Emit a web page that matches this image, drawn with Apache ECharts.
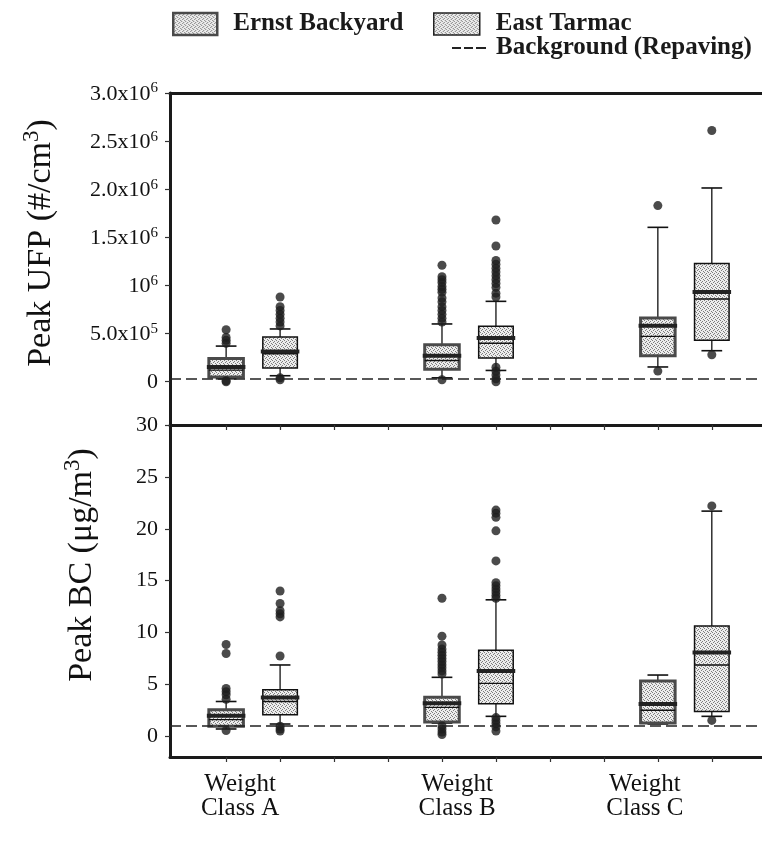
<!DOCTYPE html>
<html><head><meta charset="utf-8">
<script src="https://cdn.jsdelivr.net/npm/echarts@6/dist/echarts.min.js"></script>
<style>html,body{margin:0;padding:0;background:#fff}#c{width:762px;height:844px}</style>
</head><body><div id="c"></div>
<script>
// ---------------- data ----------------
const classNames = ['Weight\nClass A', 'Weight\nClass B', 'Weight\nClass C'];
const siteNames = ['Ernst Backyard', 'East Tarmac'];
const bgName = 'Background (Repaving)';

// box statistics per class: [lowerWhisker, Q1, median, mean, Q3, upperWhisker]
const ufpErnst = [
  [30000, 50000, 120000, 153000, 240000, 370000],
  [40000, 130000, 220000, 270000, 385000, 600000],
  [153000, 270000, 471000, 582000, 662000, 1604000]
];
const ufpEast = [
  [62000, 142000, 290000, 315000, 465000, 548000],
  [117000, 246000, 400000, 454000, 575000, 835000],
  [322000, 430000, 860000, 932000, 1227000, 2013000]
];
const bcErnst = [
  [0.7, 0.96, 1.6, 1.98, 2.55, 3.35],
  [1.27, 1.37, 2.78, 3.19, 3.77, 5.68],
  [1.18, 1.27, 2.5, 3.1, 5.33, 5.9]
];
const bcEast = [
  [1.18, 2.08, 3.35, 3.74, 4.47, 6.87],
  [1.92, 3.13, 5.1, 6.29, 8.3, 13.15],
  [1.92, 2.39, 6.87, 8.08, 10.63, 21.7]
];

// outliers per class
const ufpErnstOut = [
  [0, 10000, 400000, 430000, 460000, 540000],
  [20000, 620000, 660000, 700000, 740000, 780000, 830000, 870000, 930000, 960000, 990000, 1030000, 1060000, 1090000, 1210000],
  [110000, 1830000]
];
const ufpEastOut = [
  [20000, 40000, 580000, 620000, 660000, 700000, 740000, 780000, 880000],
  [0, 30000, 70000, 110000, 150000, 880000, 920000, 980000, 1020000, 1060000, 1100000, 1140000, 1180000, 1220000, 1260000, 1410000, 1680000],
  [280000, 2610000]
];
const bcErnstOut = [
  [0.55, 3.57, 4.0, 4.3, 4.6, 7.98, 8.84],
  [0.16, 0.4, 0.7, 1.0, 6.0, 6.3, 6.6, 6.9, 7.2, 7.5, 7.8, 8.1, 8.4, 8.8, 9.65, 13.3],
  []
];
const bcEastOut = [
  [0.5, 0.7, 0.96, 7.73, 11.5, 11.8, 12.1, 12.8, 14.0],
  [0.5, 0.9, 1.2, 1.5, 1.8, 13.3, 13.6, 13.9, 14.2, 14.5, 14.8, 16.9, 19.8, 21.1, 21.5, 21.8],
  [1.53, 22.2]
];

const bgUFP = 35000;
const bgBC = 1.0;

const ufpTickValues = [0, 500000, 1000000, 1500000, 2000000, 2500000, 3000000];
const ufpTickMant = ['0', '5.0x10', '10', '1.5x10', '2.0x10', '2.5x10', '3.0x10'];
const ufpTickExp = ['', '5', '6', '6', '6', '6', '6'];
const bcTickValues = [0, 5, 10, 15, 20, 25, 30];
const bcTickText = ['0', '5', '10', '15', '20', '25', '30'];

// ---------------- layout / style ----------------
const FONT = '"Liberation Serif", "Times New Roman", serif';
const X_MIN = -1.04, X_MAX = 9.93;
const slotTicks = [0, 1, 2, 3, 4, 5, 6, 7, 8, 9];
const classLabelX = [0.26, 4.28, 7.76];
const slot = (c, s) => c * 4 + s;

const pc = document.createElement('canvas');
pc.width = 4; pc.height = 4;
const g = pc.getContext('2d');
g.fillStyle = '#ececec'; g.fillRect(0, 0, 4, 4);
g.fillStyle = '#7c7c7c';
[[0, 0], [2, 1], [1, 2], [3, 3]].forEach(p => g.fillRect(p[0], p[1], 1, 1));
const stipple = { image: pc, repeat: 'repeat' };

const siteStyle = [
  { stroke: '#4a4a4a', lineWidth: 3 },
  { stroke: '#111', lineWidth: 1.5 }
];

function boxData(stats, s) {
  return stats.map((st, c) => [slot(c, s)].concat(st));
}
function outData(out, s) {
  const r = [];
  out.forEach((arr, c) => arr.forEach(v => r.push([slot(c, s), v])));
  return r;
}

function boxRender(s) {
  return function (params, api) {
    const x = api.value(0);
    const y = i => api.coord([x, api.value(i)])[1];
    const cx = api.coord([x, 0])[0];
    const yLw = y(1), yQ1 = y(2), yMed = y(3), yMean = y(4), yQ3 = y(5), yUw = y(6);
    const bw = api.size([1, 0])[0] * 0.64;
    const cw = bw * 0.6;
    const ls = { stroke: '#111', lineWidth: 1.3 };
    return {
      type: 'group',
      children: [
        { type: 'line', shape: { x1: cx, y1: yQ3, x2: cx, y2: yUw }, style: ls },
        { type: 'line', shape: { x1: cx - cw / 2, y1: yUw, x2: cx + cw / 2, y2: yUw }, style: { stroke: '#111', lineWidth: 1.6 } },
        { type: 'line', shape: { x1: cx, y1: yQ1, x2: cx, y2: yLw }, style: ls },
        { type: 'line', shape: { x1: cx - cw / 2, y1: yLw, x2: cx + cw / 2, y2: yLw }, style: { stroke: '#111', lineWidth: 1.6 } },
        { type: 'rect', shape: { x: cx - bw / 2, y: yQ3, width: bw, height: yQ1 - yQ3 },
          style: { fill: stipple, stroke: siteStyle[s].stroke, lineWidth: siteStyle[s].lineWidth } },
        { type: 'line', shape: { x1: cx - bw / 2, y1: yMed, x2: cx + bw / 2, y2: yMed }, style: { stroke: '#111', lineWidth: 1.4 } },
        { type: 'line', shape: { x1: cx - bw / 2 - 2, y1: yMean, x2: cx + bw / 2 + 2, y2: yMean }, style: { stroke: '#222', lineWidth: 4 } }
      ]
    };
  };
}

function boxSeries(name, stats, s, xi, yi) {
  return {
    type: 'custom', name: name, xAxisIndex: xi, yAxisIndex: yi,
    itemStyle: { color: '#d0d0d0', borderColor: siteStyle[s].stroke },
    data: boxData(stats, s), encode: { x: 0, y: [1, 2, 3, 4, 5, 6] },
    renderItem: boxRender(s), z: 3, silent: true
  };
}
function outSeries(name, out, s, xi, yi) {
  return {
    type: 'scatter', name: name, xAxisIndex: xi, yAxisIndex: yi,
    data: outData(out, s), symbolSize: 9,
    itemStyle: { color: '#1e1e1e' }, z: 4, silent: true
  };
}
function bgSeries(val, xi, yi) {
  return {
    type: 'line', name: bgName, xAxisIndex: xi, yAxisIndex: yi, data: [], symbol: 'none',
    lineStyle: { type: [11, 5], width: 1.5, color: '#222' },
    markLine: { silent: true, symbol: 'none', label: { show: false },
      lineStyle: { type: [11, 5], width: 1.5, color: '#222' }, data: [{ yAxis: val }] },
    z: 2
  };
}

const axisLineStyle = { show: true, onZero: false, lineStyle: { color: '#1a1a1a', width: 3 } };

const legendText = { fontFamily: FONT, fontWeight: 'bold', fontSize: 25, color: '#1a1a1a', lineHeight: 28 };

const titleRich = {
  t: { fontFamily: FONT, fontSize: 34, fill: '#111', lineHeight: 38, verticalAlign: 'bottom' },
  s: { fontFamily: FONT, fontSize: 23, fill: '#111', lineHeight: 20, verticalAlign: 'top' }
};

const chart = echarts.init(document.getElementById('c'), null, { renderer: 'canvas' });
chart.setOption({
  animation: false,
  backgroundColor: '#ffffff',
  legend: [
    { left: 172, top: 10, padding: 0, itemWidth: 44, itemHeight: 22, selectedMode: false,
      data: [{ name: siteNames[0], icon: 'rect', itemStyle: { color: stipple, borderColor: '#4a4a4a', borderWidth: 2.5 } }],
      textStyle: Object.assign({ padding: [0, 0, 0, 11] }, legendText) },
    { left: 433, top: 10, padding: 0, itemWidth: 46, itemHeight: 22, selectedMode: false,
      data: [{ name: siteNames[1], icon: 'rect', itemStyle: { color: stipple, borderColor: '#222', borderWidth: 1.5 } }],
      textStyle: Object.assign({ padding: [0, 0, 0, 11] }, legendText) },
    { left: 452, top: 34, padding: 0, itemWidth: 34, itemHeight: 2, selectedMode: false,
      data: [{ name: bgName, icon: 'path://M0,0h9v2h-9z M12,0h9v2h-9z M24,0h10v2h-10z', itemStyle: { color: '#222' } }],
      textStyle: Object.assign({ padding: [0, 0, 0, 5] }, legendText) }
  ],
  grid: [
    { left: 170, top: 93, width: 592, height: 332 },
    { left: 170, top: 425, width: 592, height: 332 }
  ],
  xAxis: [
    { gridIndex: 0, type: 'value', min: X_MIN, max: X_MAX, position: 'bottom',
      axisLine: axisLineStyle,
      axisTick: { show: true, customValues: slotTicks, length: 5, lineStyle: { color: '#333', width: 1.2 } },
      axisLabel: { show: false }, splitLine: { show: false } },
    { gridIndex: 0, type: 'value', min: X_MIN, max: X_MAX, position: 'top',
      axisLine: axisLineStyle, axisTick: { show: false }, axisLabel: { show: false }, splitLine: { show: false } },
    { gridIndex: 1, type: 'value', min: X_MIN, max: X_MAX, position: 'bottom',
      axisLine: axisLineStyle,
      axisTick: { show: true, customValues: slotTicks, length: 5, lineStyle: { color: '#333', width: 1.2 } },
      axisLabel: { show: true, customValues: classLabelX, margin: 15,
        formatter: v => { const i = classLabelX.indexOf(v); return i >= 0 ? classNames[i] : ''; },
        fontFamily: FONT, fontSize: 25, lineHeight: 24, color: '#111' },
      splitLine: { show: false } }
  ],
  yAxis: [
    { gridIndex: 0, type: 'value', min: -450000, max: 3000000,
      axisLine: axisLineStyle,
      axisTick: { show: true, customValues: ufpTickValues, length: 5, lineStyle: { color: '#333', width: 1.2 } },
      axisLabel: { show: true, customValues: ufpTickValues, margin: 12,
        formatter: v => { const i = ufpTickValues.indexOf(v); if (i < 0) return ''; return ufpTickExp[i] ? '{b|' + ufpTickMant[i] + '}{s|' + ufpTickExp[i] + '}' : '{b|' + ufpTickMant[i] + '}'; },
        rich: { b: { fontFamily: FONT, fontSize: 22, color: '#111', lineHeight: 24, verticalAlign: 'bottom' },
                s: { fontFamily: FONT, fontSize: 15, color: '#111', lineHeight: 14, verticalAlign: 'top' } } },
      splitLine: { show: false } },
    { gridIndex: 1, type: 'value', min: -2, max: 30,
      axisLine: axisLineStyle,
      axisTick: { show: true, customValues: bcTickValues, length: 5, lineStyle: { color: '#333', width: 1.2 } },
      axisLabel: { show: true, customValues: bcTickValues, margin: 12,
        formatter: v => { const i = bcTickValues.indexOf(v); return i >= 0 ? bcTickText[i] : ''; },
        fontFamily: FONT, fontSize: 22, color: '#111' },
      splitLine: { show: false } }
  ],
  graphic: [
    { type: 'text', x: 39, y: 243, rotation: Math.PI / 2, silent: true,
      style: { text: '{t|Peak UFP (#/cm}{s|3}{t|)}', align: 'center', verticalAlign: 'middle', rich: titleRich } },
    { type: 'text', x: 80, y: 565, rotation: Math.PI / 2, silent: true,
      style: { text: '{t|Peak BC (\u03bcg/m}{s|3}{t|)}', align: 'center', verticalAlign: 'middle', rich: titleRich } }
  ],
  series: [
    bgSeries(bgUFP, 0, 0),
    bgSeries(bgBC, 2, 1),
    boxSeries(siteNames[0], ufpErnst, 0, 0, 0),
    boxSeries(siteNames[1], ufpEast, 1, 0, 0),
    boxSeries(siteNames[0], bcErnst, 0, 2, 1),
    boxSeries(siteNames[1], bcEast, 1, 2, 1),
    outSeries('UFP outliers Ernst', ufpErnstOut, 0, 0, 0),
    outSeries('UFP outliers East', ufpEastOut, 1, 0, 0),
    outSeries('BC outliers Ernst', bcErnstOut, 0, 2, 1),
    outSeries('BC outliers East', bcEastOut, 1, 2, 1)
  ]
});
</script>
</body></html>
